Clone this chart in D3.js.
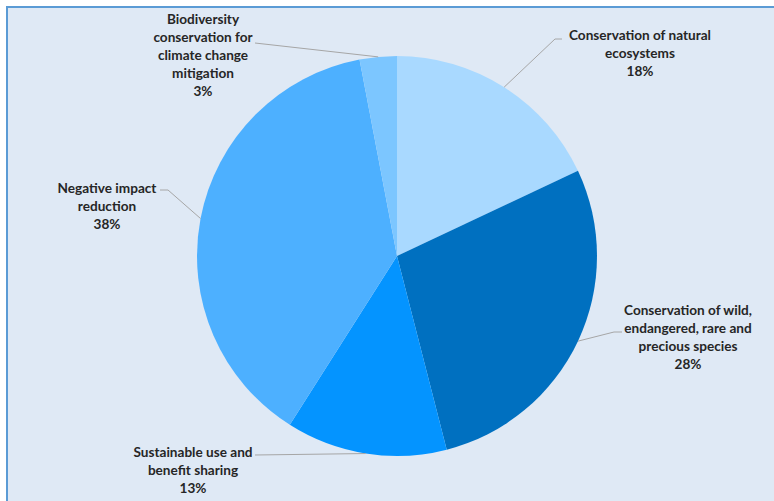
<!DOCTYPE html>
<html>
<head>
<meta charset="utf-8">
<script src="https://cdn.jsdelivr.net/npm/d3@7"></script>
<style>
	body { margin: 0; background: #fff; }
	svg { display: block; }
</style>
</head>
<body>
<script>
	// chart data
	var categories = [
		[ "Conservation of natural", "ecosystems" ],
		[ "Conservation of wild,", "endangered, rare and", "precious species" ],
		[ "Sustainable use and", "benefit sharing" ],
		[ "Negative impact", "reduction" ],
		[ "Biodiversity", "conservation for", "climate change", "mitigation" ]
	];
	var shares = [ 18, 28, 13, 38, 3 ];
	var palette = [ "#a9d9ff", "#0070c0", "#0494ff", "#4db0ff", "#7cc6ff" ];

	var width = 774, height = 501;
	var cx = 397, cy = 256, radius = 200;

	// where each label block sits (x centre, y of first line) and its elbow
	var labelPos = [
		{ x: 640, y: 35, elbow: [ 562, 39 ], knee: [ 555, 39 ] },
		{ x: 688, y: 310, elbow: [ 622, 332 ], knee: [ 614, 332 ] },
		{ x: 193, y: 452, elbow: [ 255, 455 ], knee: [ 255, 455 ] },
		{ x: 107, y: 188, elbow: [ 160, 190 ], knee: [ 168, 190 ] },
		{ x: 203, y: 19, elbow: [ 255, 43 ], knee: [ 255, 43 ] }
	];

	var svg = d3.select( "body" ).append( "svg" )
		.attr( "width", width )
		.attr( "height", height );

	svg.append( "rect" )
		.attr( "x", 7 )
		.attr( "y", 7 )
		.attr( "width", width - 7 )
		.attr( "height", height - 7 )
		.attr( "fill", "#dfe9f5" );

	svg.append( "line" )
		.attr( "x1", 6 ).attr( "y1", 7 )
		.attr( "x2", width ).attr( "y2", 7 )
		.attr( "stroke", "#5b9bd5" ).attr( "stroke-width", 2 );
	svg.append( "line" )
		.attr( "x1", 7 ).attr( "y1", 6 )
		.attr( "x2", 7 ).attr( "y2", height )
		.attr( "stroke", "#5b9bd5" ).attr( "stroke-width", 2 );

	var color = d3.scaleOrdinal()
		.domain( d3.range( shares.length ) )
		.range( palette );

	var pie = d3.pie()
		.sort( null )
		.value( function ( d ) { return d; } );

	var arcs = pie( shares );

	var arc = d3.arc()
		.innerRadius( 0 )
		.outerRadius( radius );

	var g = svg.append( "g" )
		.attr( "transform", "translate(" + cx + "," + cy + ")" );

	g.selectAll( "path" )
		.data( arcs )
		.join( "path" )
		.attr( "d", arc )
		.attr( "fill", function ( d, i ) { return color( i ); } );

	// leader lines from the arc's middle to the label
	var edgeArc = d3.arc().innerRadius( radius ).outerRadius( radius );

	svg.append( "g" )
		.selectAll( "polyline" )
		.data( arcs )
		.join( "polyline" )
		.attr( "fill", "none" )
		.attr( "stroke", "#a6a6a6" )
		.attr( "stroke-width", 1 )
		.attr( "points", function ( d, i ) {
			var p = edgeArc.centroid( d );
			var l = labelPos[ i ];
			return [ l.elbow, l.knee, [ p[0] + cx, p[1] + cy ] ].map( function ( q ) { return q.join( "," ); } ).join( " " );
		});

	var labels = svg.append( "g" )
		.selectAll( "text" )
		.data( arcs )
		.join( "text" )
		.attr( "text-anchor", "middle" )
		.attr( "font-family", "Lato, 'Open Sans', sans-serif" )
		.attr( "font-weight", "bold" )
		.attr( "font-size", "13.6px" )
		.attr( "fill", "#262626" )
		.attr( "x", function ( d, i ) { return labelPos[ i ].x; } )
		.attr( "y", function ( d, i ) { return labelPos[ i ].y; } );

	labels.each( function ( d, i ) {
		var lines = categories[ i ].concat( [ shares[ i ] + "%" ] );
		d3.select( this ).selectAll( "tspan" )
			.data( lines )
			.join( "tspan" )
			.attr( "x", labelPos[ i ].x )
			.attr( "dy", function ( t, j ) { return j === 0 ? "0.35em" : "18px"; } )
			.text( function ( t ) { return t; } );
	});
</script>
</body>
</html>
